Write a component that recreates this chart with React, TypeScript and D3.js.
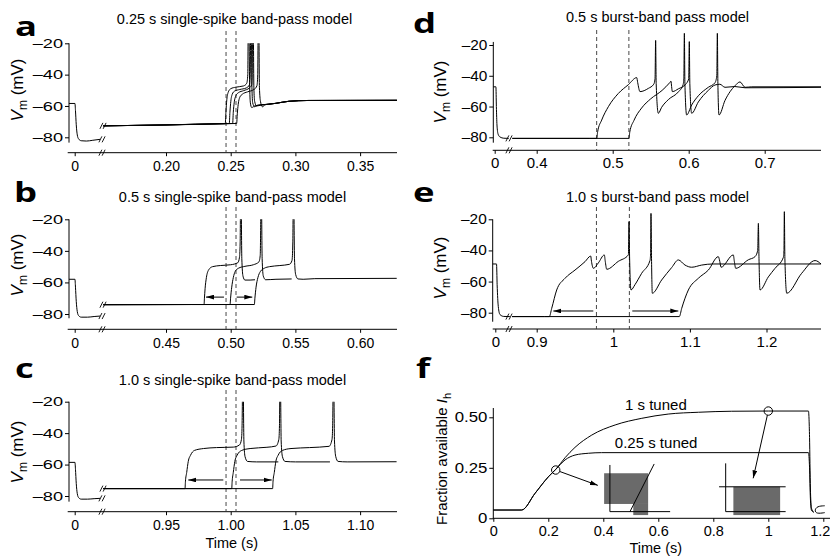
import React, { useEffect, useRef } from 'react'
import * as d3 from 'd3'

type Pt = [number, number]

const SANS = '"Liberation Sans", Arial, Helvetica, sans-serif'
const BOLD = '"Open Sans", "Liberation Sans", Arial, sans-serif'

// ---------- a: 0.25 s single-spike band-pass model ----------
const aTicks = [0.2, 0.25, 0.3, 0.35]
const aDashes = [0.2464, 0.2541]
const aPre: Pt[] = [[-0.0044, -58.4], [0.0002, -58.4], [0.0006, -63], [0.0012, -72], [0.002, -78.5], [0.003, -81], [0.005, -82.2], [0.009, -82.4], [0.014, -81.9], [0.0196, -81.3]]
const aBase: Pt[] = [[0.1515, -72.7], [0.2, -72.1], [0.2455, -71.3]]
const aTail: Pt[] = [[0.279, -58.9], [0.285, -58.3], [0.295, -57], [0.31, -56.5], [0.3785, -56.4]]
const aSweep1: Pt[] = [...aBase, [0.2458, -71.3], [0.2463, -64], [0.247, -56], [0.2482, -51], [0.25, -49], [0.254, -48], [0.26, -47.2], [0.2624, -45.5], [0.2632, -40], [0.2636, -5], [0.264, -5], [0.2646, -45], [0.2652, -58], [0.2662, -61], [0.269, -59.8], ...aTail]
const aSweep2: Pt[] = [...aBase, [0.2489, -71.2], [0.2494, -64], [0.2501, -57], [0.2512, -52.5], [0.253, -50.5], [0.257, -49.5], [0.262, -48.5], [0.2645, -46.5], [0.2651, -40], [0.2655, -5], [0.2659, -5], [0.2664, -48], [0.267, -58], [0.2685, -60.5], [0.271, -59.5], ...aTail]
const aSweep3: Pt[] = [...aBase, [0.2515, -71.2], [0.252, -64], [0.2527, -58], [0.254, -53.5], [0.256, -51.5], [0.26, -50.2], [0.2645, -48.5], [0.2662, -46.5], [0.2666, -40], [0.267, -5], [0.2674, -5], [0.2679, -48], [0.2685, -57], [0.27, -60], [0.273, -59.5], ...aTail]
const aSweep4: Pt[] = [...aBase, [0.2546, -71.2], [0.2551, -65], [0.2558, -59], [0.257, -54.5], [0.259, -52.5], [0.263, -51], [0.268, -49.5], [0.2703, -47], [0.2709, -40], [0.2713, -5], [0.2717, -5], [0.2722, -48], [0.273, -57], [0.2745, -60.5], [0.2765, -59.3], ...aTail]

// ---------- b: 0.5 s single-spike band-pass model ----------
const bTicks = [0.45, 0.5, 0.55, 0.6]
const bDashes = [0.4964, 0.5041]
const bPre: Pt[] = [[-0.0044, -58], [0.0002, -58], [0.0006, -63], [0.0012, -72], [0.002, -78.5], [0.003, -81], [0.005, -82], [0.01, -82], [0.015, -81.6], [0.0196, -81.3]]
const bBase: Pt[] = [[0.4015, -74.1], [0.47, -74]]
const bSweep1: Pt[] = [...bBase, [0.4794, -74], [0.4797, -70], [0.4802, -64], [0.4812, -57], [0.483, -52], [0.486, -50], [0.492, -49.3], [0.5, -48.8], [0.5055, -47.5], [0.5068, -44], [0.5073, -35], [0.5077, -5], [0.508, -5], [0.5086, -45], [0.5095, -56], [0.511, -58.5], [0.515, -58.5], [0.5188, -58.3]]
const bSweep2: Pt[] = [...bBase, [0.4995, -74], [0.4999, -70], [0.5008, -63], [0.502, -57], [0.5035, -53], [0.506, -51], [0.511, -49.8], [0.5175, -48.8], [0.5218, -47], [0.5228, -43], [0.5231, -30], [0.5234, -5], [0.5237, -5], [0.5243, -45], [0.5252, -56], [0.527, -58.3], [0.535, -58], [0.5471, -57.8]]
const bSweep3: Pt[] = [...bBase, [0.5183, -74], [0.5187, -70], [0.5196, -63], [0.521, -57], [0.523, -53], [0.526, -51], [0.53, -50], [0.538, -49.3], [0.5455, -48.5], [0.5474, -46], [0.548, -35], [0.5484, -5], [0.5487, -5], [0.5493, -45], [0.5502, -55], [0.552, -57.8], [0.556, -58], [0.565, -57.6], [0.6283, -57.4]]
const bArrows = [[0.4948, 0.4809, -69.3], [0.5046, 0.5167, -69.3]]

// ---------- c: 1.0 s single-spike band-pass model ----------
const cTicks = [0.95, 1.0, 1.05, 1.1]
const cDashes = [0.9964, 1.0041]
const cPre: Pt[] = [[-0.0044, -58.6], [0.0002, -58.6], [0.0006, -63], [0.0012, -72], [0.002, -78.5], [0.003, -81], [0.005, -82], [0.01, -82], [0.015, -81.7], [0.0196, -81.5]]
const cBase: Pt[] = [[0.9015, -75.3], [0.96, -75.3]]
const cSweep1: Pt[] = [...cBase, [0.9647, -75.3], [0.965, -71], [0.966, -65], [0.9672, -58], [0.969, -54], [0.972, -51], [0.979, -49.8], [0.989, -49.2], [1.002, -48.9], [1.0068, -47.5], [1.0083, -44], [1.0088, -35], [1.0093, -5], [1.0096, -5], [1.0102, -45], [1.0111, -55], [1.013, -58], [1.02, -58.3], [1.0368, -58.3]]
const cSweep2: Pt[] = [...cBase, [1.0008, -75.3], [1.0011, -71], [1.002, -65], [1.0032, -58], [1.005, -54], [1.0085, -51], [1.015, -49.8], [1.028, -49], [1.035, -48.2], [1.0372, -44], [1.0377, -35], [1.0381, -5], [1.0384, -5], [1.039, -45], [1.04, -55], [1.042, -58], [1.05, -58.3], [1.0767, -58.3]]
const cSweep3: Pt[] = [...cBase, [1.0324, -75.3], [1.0327, -71], [1.0337, -65], [1.0349, -58], [1.0367, -54], [1.04, -51], [1.0466, -49.8], [1.061, -49.2], [1.076, -48.4], [1.0783, -44], [1.0788, -35], [1.0793, -5], [1.0796, -5], [1.0802, -45], [1.0812, -55], [1.083, -58], [1.09, -58.3], [1.1282, -58.2]]
const cArrows = [[0.9943, 0.9672, -69.8], [1.0072, 1.0317, -69.8]]

// ---------- d: 0.5 s burst-band pass model ----------
const dTicks = [0.4, 0.5, 0.6, 0.7]
const dDashes = [0.4789, 0.5213]
const dPre: Pt[] = [[-0.0018, -47.2], [0.0016, -47.2], [0.0022, -60], [0.003, -72], [0.0045, -78], [0.007, -79.8], [0.012, -80.6], [0.0185, -80.7]]
const dBase: Pt[] = [[0.3679, -80.7], [0.47, -80.7]]
const dSweep1: Pt[] = [...dBase, [0.4789, -80.7], [0.4802, -76.4], [0.4855, -68.8], [0.4943, -60.1], [0.5074, -51.5], [0.5206, -45.8], [0.5316, -41.2], [0.5329, -44.5], [0.5359, -50.3], [0.5469, -48.2], [0.554, -45.5], [0.5557, -42], [0.5565, -17], [0.5572, -45], [0.56, -64.4], [0.5644, -60.5], [0.5732, -55.5], [0.5864, -50.5], [0.5925, -46], [0.5936, -42], [0.5943, -12.4], [0.595, -45], [0.5973, -65.5], [0.6039, -59], [0.6127, -53], [0.6258, -47.5], [0.6346, -44.5], [0.637, -40], [0.6377, -12.4], [0.6384, -45], [0.6399, -65.5], [0.6478, -56], [0.6609, -46.5], [0.6675, -44], [0.6741, -47.5], [0.6829, -47.2], [0.7741, -47.2]]
const dSweep2: Pt[] = [...dBase, [0.5213, -80.7], [0.5225, -76.5], [0.528, -69], [0.538, -61], [0.55, -55], [0.565, -49.5], [0.575, -44.5], [0.5767, -43.5], [0.5775, -47], [0.5785, -50.3], [0.5864, -48.5], [0.596, -45.5], [0.6, -42], [0.6008, -17.8], [0.6015, -45], [0.6039, -64.4], [0.6127, -57], [0.6258, -49.5], [0.6346, -46], [0.641, -45.5], [0.6478, -47.5], [0.6609, -47], [0.6741, -47.8], [0.7741, -47.5]]

// ---------- e: 1.0 s burst-band pass model ----------
const eTicks = [0.9, 1.0, 1.1, 1.2]
const eDashes = [0.978, 1.021]
const ePre: Pt[] = [[-0.0034, -48.7], [0.0016, -48.7], [0.0024, -62], [0.0039, -76], [0.0061, -81.2], [0.011, -82.4], [0.019, -82.5]]
const eBase: Pt[] = [[0.8678, -82.5], [0.91, -82.5]]
const eSweep1: Pt[] = [...eBase, [0.9165, -82.5], [0.9196, -77.2], [0.9261, -65.4], [0.937, -57.9], [0.95, -52.6], [0.9631, -47.2], [0.9705, -43.6], [0.9715, -47], [0.974, -51.5], [0.9805, -48], [0.9883, -42.9], [0.9895, -47], [0.9914, -52.1], [1.0066, -47], [1.0197, -42.9], [1.0205, -21.5], [1.0213, -45], [1.0231, -65.4], [1.0283, -62], [1.037, -54.7], [1.0479, -46.5], [1.0487, -42], [1.0492, -16.2], [1.0499, -45], [1.0509, -67.5], [1.0631, -59], [1.0762, -51], [1.0849, -46.1], [1.0936, -49.4], [1.1023, -50.8], [1.1154, -49.4], [1.13, -48.7], [1.2712, -48.7]]
const eSweep2: Pt[] = [...eBase, [1.0862, -82.5], [1.0893, -77.2], [1.098, -65.4], [1.111, -57.9], [1.1241, -52.6], [1.1371, -44], [1.139, -47], [1.1406, -50.8], [1.1567, -42.9], [1.158, -47], [1.1598, -51.5], [1.1763, -46], [1.185, -44], [1.1885, -40], [1.1894, -22.6], [1.1902, -45], [1.1915, -65.4], [1.2024, -57], [1.2111, -51.5], [1.222, -44.5], [1.2228, -40], [1.2233, -15.1], [1.224, -45], [1.2264, -67.5], [1.2459, -54.7], [1.2634, -46.5], [1.2712, -48.7]]
const eArrows = [[0.9739, 0.9217, -78.9], [1.0248, 1.0849, -78.9]]

// ---------- f: fraction of available Ih ----------
const fTicksX = [0, 0.2, 0.4, 0.6, 0.8, 1.0, 1.2]
const fTicksY = [0, 0.25, 0.5]
const fTuned1s: Pt[] = [[0, 0.041], [0.103, 0.041], [0.152, 0.124], [0.2, 0.205], [0.227, 0.242], [0.261, 0.3], [0.297, 0.351], [0.358, 0.412], [0.443, 0.462], [0.54, 0.495], [0.636, 0.516], [0.746, 0.525], [0.867, 0.53], [1.0, 0.531], [1.146, 0.531], [1.15, 0.4], [1.153, 0.15], [1.157, 0.05], [1.165, 0.03]]
const fTuned025: Pt[] = [[0, 0.041], [0.103, 0.041], [0.152, 0.124], [0.2, 0.205], [0.227, 0.242], [0.261, 0.289], [0.297, 0.313], [0.346, 0.322], [0.394, 0.325], [1.146, 0.325], [1.15, 0.25], [1.153, 0.1], [1.157, 0.04], [1.165, 0.03]]
const fCurl: Pt[] = [[1.205, 0.062], [1.178, 0.06], [1.168, 0.04], [1.175, 0.022], [1.205, 0.028]]
const fCircles: Pt[] = [[0.227, 0.239], [1.0, 0.531]]
const fArrowTips: Pt[] = [[0.38, 0.163], [0.945, 0.198]]
const fLabels = [
  { text: '1 s tuned', t: 0.479, v: 0.536 },
  { text: '0.25 s tuned', t: 0.442, v: 0.347 },
]
const fInsetGray = [
  { t0: 0.403, t1: 0.563, v0: 0.071, v1: 0.223 },
  { t0: 0.509, t1: 0.563, v0: 0.016, v1: 0.071 },
  { t0: 0.873, t1: 1.043, v0: 0.016, v1: 0.156 },
]
const fInsetLines: Pt[][] = [
  [[0.424, 0.264], [0.424, 0.033], [0.643, 0.033]],
  [[0.497, 0.033], [0.585, 0.269]],
  [[0.845, 0.272], [0.845, 0.033], [1.063, 0.033]],
  [[0.821, 0.156], [1.063, 0.156]],
]

const panels = [
  {
    key: 'a', letter: 'a', letterPos: [15, 36], title: '0.25 s single-spike band-pass model', titlePos: [234.5, 24],
    yAxisX: 69, yPx: [137.3, 43.3], yExtent: [-83.4, -20], ylabelPos: [23, 90],
    axisY: 152.7, axisSpan: [67.7, 397], zeroX: 74.7, pxPerSec: 1294, breakX: 102, dashTop: 31,
    ticks: aTicks, tickFmt: d3.format('.2f'), dashes: aDashes, pre: aPre,
    sweeps: [aSweep1, aSweep2, aSweep3, aSweep4], arrows: [], clip: true, yStretch: 1.4, yFont: 13, xFont: 14, xPad: 5,
  },
  {
    key: 'b', letter: 'b', letterPos: [14, 202], title: '0.5 s single-spike band-pass model', titlePos: [232.5, 202],
    yAxisX: 69, yPx: [314, 219.3], yExtent: [-82.7, -20], ylabelPos: [23, 265],
    axisY: 329.3, axisSpan: [67.7, 397], zeroX: 74.7, pxPerSec: 1294, breakX: 102, dashTop: 207,
    ticks: bTicks, tickFmt: d3.format('.2f'), dashes: bDashes, pre: bPre,
    sweeps: [bSweep1, bSweep2, bSweep3], arrows: bArrows, clip: true, yStretch: 1.4, yFont: 13, xFont: 14, xPad: 5,
  },
  {
    key: 'c', letter: 'c', letterPos: [15, 378], title: '1.0 s single-spike band-pass model', titlePos: [232.5, 384.5],
    yAxisX: 69, yPx: [496, 401.7], yExtent: [-83.6, -20], ylabelPos: [23, 452],
    axisY: 511.7, axisSpan: [67.7, 397], zeroX: 74.7, pxPerSec: 1294, breakX: 102, dashTop: 390,
    ticks: cTicks, tickFmt: d3.format('.2f'), dashes: cDashes, pre: cPre,
    sweeps: [cSweep1, cSweep2, cSweep3], arrows: cArrows, clip: true, yStretch: 1.4, yFont: 13, xFont: 14, xPad: 5,
  },
  {
    key: 'd', letter: 'd', letterPos: [413, 33], title: '0.5 s burst-band pass model', titlePos: [657.5, 22],
    yAxisX: 493.3, yPx: [137.3, 45], yExtent: [-83.5, -18], ylabelPos: [446, 92],
    axisY: 150.3, axisSpan: [492.7, 821], zeroX: 494.7, pxPerSec: 760, breakX: 509, dashTop: 30,
    ticks: dTicks, tickFmt: d3.format('.1f'), dashes: dDashes, pre: dPre,
    sweeps: [dSweep1, dSweep2], arrows: [], clip: false, yStretch: 1.1, yFont: 14, xFont: 15, xPad: 4,
  },
  {
    key: 'e', letter: 'e', letterPos: [413, 202], title: '1.0 s burst-band pass model', titlePos: [657.5, 202],
    yAxisX: 492.7, yPx: [312.7, 219.3], yExtent: [-85.8, -20], ylabelPos: [446, 268],
    axisY: 329, axisSpan: [492.7, 821], zeroX: 495.3, pxPerSec: 766, breakX: 509, dashTop: 207,
    ticks: eTicks, tickFmt: d3.format('~g'), dashes: eDashes, pre: ePre,
    sweeps: [eSweep1, eSweep2], arrows: eArrows, clip: false, yStretch: 1.1, yFont: 14, xFont: 15, xPad: 4,
  },
]

function breakMark(g: any, cx: number, cy: number) {
  for (const dx of [-1.6, 1.6]) {
    g.append('line')
      .attr('x1', cx + dx - 1.5).attr('y1', cy + 3)
      .attr('x2', cx + dx + 1.5).attr('y2', cy - 3)
      .attr('stroke', '#000').attr('stroke-width', 0.9)
  }
}

function panelLetter(g: any, letter: string, pos: number[]) {
  g.append('text')
    .attr('transform', `translate(${pos[0]},${pos[1]}) scale(1.35,1)`)
    .attr('font-family', BOLD).attr('font-weight', 700).attr('font-size', 27)
    .text(letter)
}

function drawVmPanel(svg: any, defs: any, p: any) {
  const g = svg.append('g').attr('font-family', SANS)
  const y = d3.scaleLinear().domain([-80, -20]).range(p.yPx)
  const xPre = d3.scaleLinear().domain([0, 0.01]).range([p.zeroX, p.zeroX + p.pxPerSec * 0.01])
  const t0 = p.ticks[0]
  const x0 = p.key === 'd' || p.key === 'e' ? 536.7 : 166
  const xPost = d3.scaleLinear().domain([t0, t0 + 0.1]).range([x0, x0 + p.pxPerSec * 0.1])

  panelLetter(g, p.letter, p.letterPos)
  g.append('text').attr('x', p.titlePos[0]).attr('y', p.titlePos[1])
    .attr('text-anchor', 'middle').attr('font-size', 14.5).text(p.title)

  // y axis
  g.append('line').attr('x1', p.yAxisX).attr('x2', p.yAxisX)
    .attr('y1', y(p.yExtent[1])).attr('y2', y(p.yExtent[0])).attr('stroke', '#000')
  const ya = g.append('g').attr('transform', `translate(${p.yAxisX},0)`)
    .call(d3.axisLeft(y).tickValues([-20, -40, -60, -80]).tickSize(4)
      .tickFormat((d: any) => '\u2013' + Math.abs(d)))
  ya.select('.domain').remove()
  ya.selectAll('text').attr('x', -6 / p.yStretch).attr('transform', `scale(${p.yStretch},1)`)
    .attr('font-size', p.yFont).attr('font-family', SANS)

  const yl = g.append('text')
    .attr('transform', `translate(${p.ylabelPos[0]},${p.ylabelPos[1]}) rotate(-90)`)
    .attr('text-anchor', 'middle').attr('font-size', 17)
  yl.append('tspan').attr('font-style', 'italic').text('V')
  yl.append('tspan').attr('font-size', 12).attr('dy', 4).text('m')
  yl.append('tspan').attr('dy', -4).text(' (mV)')

  // x axis
  g.append('line').attr('x1', p.axisSpan[0]).attr('x2', p.axisSpan[1])
    .attr('y1', p.axisY).attr('y2', p.axisY).attr('stroke', '#000')
  const xa = g.append('g').attr('transform', `translate(0,${p.axisY})`)
    .call(d3.axisBottom(xPost).tickValues(p.ticks).tickSize(3.5).tickPadding(p.xPad).tickFormat(p.tickFmt))
  const xz = g.append('g').attr('transform', `translate(0,${p.axisY})`)
    .call(d3.axisBottom(xPre).tickValues([0]).tickSize(3.5).tickPadding(p.xPad).tickFormat(() => '0'))
  for (const a of [xa, xz]) {
    a.select('.domain').remove()
    a.selectAll('text').attr('font-size', p.xFont).attr('font-family', SANS)
  }
  breakMark(g, p.breakX, p.axisY)

  // stimulus window
  g.selectAll('line.dash').data(p.dashes).join('line').attr('class', 'dash')
    .attr('x1', (d: number) => xPost(d)).attr('x2', (d: number) => xPost(d))
    .attr('y1', p.dashTop).attr('y2', p.axisY)
    .attr('stroke', '#333').attr('stroke-width', 0.9).attr('stroke-dasharray', '4,3')

  // traces
  const clipId = 'clip-' + p.key
  if (p.clip) {
    defs.append('clipPath').attr('id', clipId).append('rect')
      .attr('x', 0).attr('y', y(-20)).attr('width', 830).attr('height', 300)
  }
  const tg = g.append('g').attr('clip-path', p.clip ? `url(#${clipId})` : null)
    .attr('fill', 'none').attr('stroke', '#000').attr('stroke-width', 1)
  const linePre = d3.line<Pt>().x(d => xPre(d[0])).y(d => y(d[1])).curve(d3.curveMonotoneX)
  const linePost = d3.line<Pt>().x(d => xPost(d[0])).y(d => y(d[1])).curve(d3.curveMonotoneX)
  tg.append('path').attr('d', linePre(p.pre))
  tg.selectAll('path.sweep').data(p.sweeps).join('path').attr('class', 'sweep')
    .attr('d', (d: Pt[]) => linePost(d))

  const preEnd = p.pre[p.pre.length - 1]
  const postStart = p.sweeps[0][0]
  breakMark(g, p.breakX, y(preEnd[1]))
  if (Math.abs(y(postStart[1]) - y(preEnd[1])) > 6) breakMark(g, p.breakX + 1, y(postStart[1]))

  g.selectAll('line.arrow').data(p.arrows).join('line').attr('class', 'arrow')
    .attr('x1', (d: number[]) => xPost(d[0])).attr('x2', (d: number[]) => xPost(d[1]))
    .attr('y1', (d: number[]) => y(d[2])).attr('y2', (d: number[]) => y(d[2]))
    .attr('stroke', '#000').attr('stroke-width', 1).attr('marker-end', 'url(#ah)')

  if (p.key === 'c') {
    g.append('text').attr('x', 231.7).attr('y', 548).attr('text-anchor', 'middle')
      .attr('font-size', 14.5).text('Time (s)')
  }
}

function drawFPanel(svg: any) {
  const g = svg.append('g').attr('font-family', SANS)
  const x = d3.scaleLinear().domain([0, 1.2]).range([493.3, 823.3])
  const y = d3.scaleLinear().domain([0, 0.5]).range([518.3, 417.3])

  panelLetter(g, 'f', [416, 378])

  g.append('line').attr('x1', x(0)).attr('x2', x(0)).attr('y1', y(0)).attr('y2', y(0.546)).attr('stroke', '#000')
  g.append('line').attr('x1', x(0) - 0.5).attr('x2', 830).attr('y1', y(0)).attr('y2', y(0)).attr('stroke', '#000')
  const ya = g.append('g').attr('transform', `translate(${x(0)},0)`)
    .call(d3.axisLeft(y).tickValues(fTicksY).tickSize(4).tickFormat((d: any) => (d === 0 ? '0' : d3.format('.2f')(d))))
  ya.select('.domain').remove()
  ya.selectAll('text').attr('x', -6 / 1.2).attr('transform', 'scale(1.2,1)').attr('font-size', 14).attr('font-family', SANS)
  const xa = g.append('g').attr('transform', `translate(0,${y(0)})`)
    .call(d3.axisBottom(x).tickValues(fTicksX).tickSize(3.5).tickPadding(3.5).tickFormat(d3.format('~g')))
  xa.select('.domain').remove()
  xa.selectAll('text').attr('font-size', 14.5).attr('font-family', SANS)
  // last label sits at the right edge of the figure: keep it inside
  xa.selectAll('text').filter((d: any) => d === 1.2).attr('text-anchor', 'end').attr('x', 6.5)

  const yl = g.append('text').attr('transform', `translate(447,459) rotate(-90)`)
    .attr('text-anchor', 'middle').attr('font-size', 15)
  yl.append('tspan').text('Fraction available ')
  yl.append('tspan').attr('font-style', 'italic').text('I')
  yl.append('tspan').attr('font-size', 11).attr('dy', 4).text('h')

  g.append('text').attr('x', 655.8).attr('y', 553).attr('text-anchor', 'middle').attr('font-size', 14.5).text('Time (s)')

  // insets
  g.selectAll('rect.gray').data(fInsetGray).join('rect').attr('class', 'gray')
    .attr('x', (d: any) => x(d.t0)).attr('y', (d: any) => y(d.v1))
    .attr('width', (d: any) => x(d.t1) - x(d.t0)).attr('height', (d: any) => y(d.v0) - y(d.v1))
    .attr('fill', '#6a6a6a')
  const straight = d3.line<Pt>().x(d => x(d[0])).y(d => y(d[1]))
  g.selectAll('path.inset').data(fInsetLines).join('path').attr('class', 'inset')
    .attr('d', (d: Pt[]) => straight(d)).attr('fill', 'none').attr('stroke', '#000').attr('stroke-width', 1)

  const curve = d3.line<Pt>().x(d => x(d[0])).y(d => y(d[1])).curve(d3.curveMonotoneX)
  for (const c of [fTuned1s, fTuned025]) {
    g.append('path').attr('d', curve(c)).attr('fill', 'none').attr('stroke', '#000').attr('stroke-width', 1)
  }
  g.append('path').attr('d', d3.line<Pt>().x(d => x(d[0])).y(d => y(d[1])).curve(d3.curveBasis)(fCurl))
    .attr('fill', 'none').attr('stroke', '#000').attr('stroke-width', 1)

  const r = 4.2
  fCircles.forEach((c, i) => {
    g.append('circle').attr('cx', x(c[0])).attr('cy', y(c[1])).attr('r', r)
      .attr('fill', 'none').attr('stroke', '#000').attr('stroke-width', 1)
    const tip = fArrowTips[i]
    const dx = x(tip[0]) - x(c[0])
    const dy = y(tip[1]) - y(c[1])
    const len = Math.hypot(dx, dy)
    g.append('line')
      .attr('x1', x(c[0]) + (dx / len) * r).attr('y1', y(c[1]) + (dy / len) * r)
      .attr('x2', x(tip[0])).attr('y2', y(tip[1]))
      .attr('stroke', '#000').attr('stroke-width', 1).attr('marker-end', 'url(#ah)')
  })

  g.selectAll('text.lab').data(fLabels).join('text').attr('class', 'lab')
    .attr('x', (d: any) => x(d.t)).attr('y', (d: any) => y(d.v))
    .attr('font-size', 15).text((d: any) => d.text)
}

export default function App() {
  const svgRef = useRef<SVGSVGElement>(null)

  useEffect(() => {
    const svg = d3.select(svgRef.current)
    svg.selectAll('*').remove()
    const defs = svg.append('defs')
    defs.append('marker').attr('id', 'ah').attr('viewBox', '0 0 10 6')
      .attr('refX', 10).attr('refY', 3).attr('markerWidth', 8).attr('markerHeight', 5)
      .attr('markerUnits', 'userSpaceOnUse').attr('orient', 'auto')
      .append('path').attr('d', 'M0,0L10,3L0,6Z').attr('fill', '#000')

    panels.forEach(p => drawVmPanel(svg, defs, p))
    drawFPanel(svg)
  }, [])

  return (
    <svg
      ref={svgRef}
      width={830}
      height={557}
      style={{ position: 'absolute', left: 0, top: 0, background: '#fff' }}
    />
  )
}
